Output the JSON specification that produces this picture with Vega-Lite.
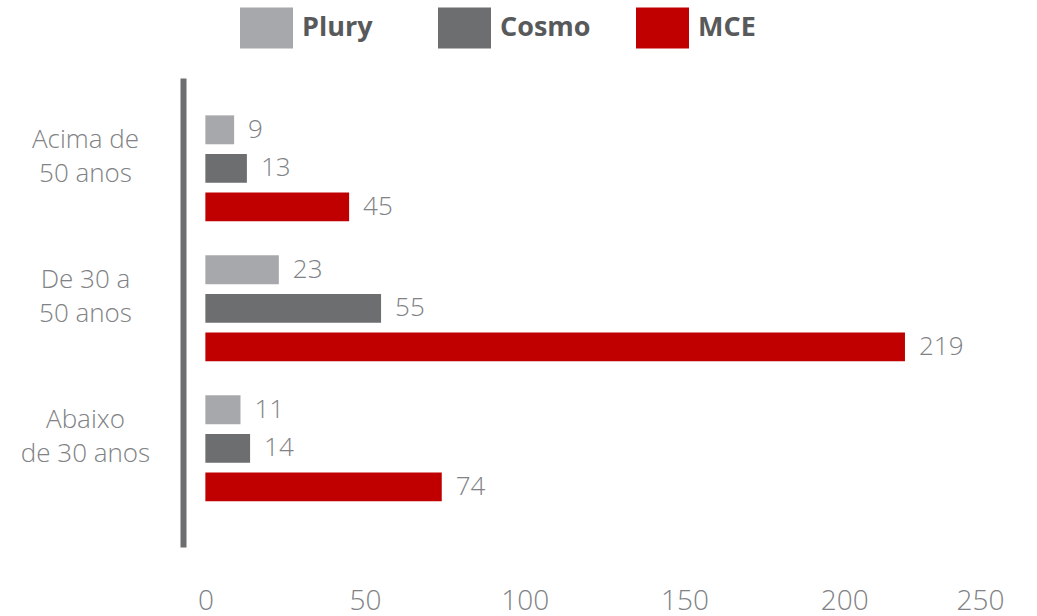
{
  "$schema": "https://vega.github.io/schema/vega-lite/v6.json",
  "width": 821,
  "height": 469,
  "autosize": {"type": "none"},
  "padding": {"left": 183, "top": 78, "right": 33, "bottom": 69},
  "background": "white",
  "config": {"view": {"stroke": null}, "font": "Open Sans"},
  "data": {
    "values": [
      {"grupo": "Acima de 50 anos", "empresa": "Plury", "valor": 9},
      {"grupo": "Acima de 50 anos", "empresa": "Cosmo", "valor": 13},
      {"grupo": "Acima de 50 anos", "empresa": "MCE", "valor": 45},
      {"grupo": "De 30 a 50 anos", "empresa": "Plury", "valor": 23},
      {"grupo": "De 30 a 50 anos", "empresa": "Cosmo", "valor": 55},
      {"grupo": "De 30 a 50 anos", "empresa": "MCE", "valor": 219},
      {"grupo": "Abaixo de 30 anos", "empresa": "Plury", "valor": 11},
      {"grupo": "Abaixo de 30 anos", "empresa": "Cosmo", "valor": 14},
      {"grupo": "Abaixo de 30 anos", "empresa": "MCE", "valor": 74}
    ]
  },
  "encoding": {
    "y": {
      "field": "grupo",
      "type": "nominal",
      "sort": ["Acima de 50 anos", "De 30 a 50 anos", "Abaixo de 30 anos"],
      "scale": {"paddingInner": 0.243, "paddingOuter": 0.2965, "align": 0.45},
      "axis": {
        "title": null,
        "domain": true,
        "domainColor": "#6d6e70",
        "domainWidth": 6,
        "ticks": false,
        "labelAlign": "center",
        "labelBaseline": "middle",
        "labelPadding": 98,
        "labelFontSize": 26,
        "labelFontWeight": 300,
        "labelColor": "#808285",
        "labelLineHeight": 34,
        "labelOffset": -28,
        "labelExpr": "datum.label == 'Acima de 50 anos' ? ['Acima de', '50 anos'] : datum.label == 'De 30 a 50 anos' ? ['De 30 a', '50 anos'] : ['Abaixo', 'de 30 anos']"
      }
    },
    "yOffset": {
      "field": "empresa",
      "type": "nominal",
      "sort": ["Plury", "Cosmo", "MCE"],
      "scale": {"paddingInner": 0.25, "paddingOuter": 0}
    },
    "x": {
      "field": "valor",
      "type": "quantitative",
      "scale": {"domain": [-7, 250], "nice": false, "zero": false},
      "axis": {
        "title": null,
        "values": [0, 50, 100, 150, 200, 250],
        "domain": false,
        "ticks": false,
        "grid": false,
        "labelFontSize": 28,
        "labelFontWeight": 300,
        "labelColor": "#808285",
        "labelPadding": 54,
        "labelBaseline": "middle"
      }
    }
  },
  "layer": [
    {
      "mark": {"type": "bar"},
      "encoding": {
        "x2": {"datum": 0},
        "color": {
          "field": "empresa",
          "type": "nominal",
          "scale": {"domain": ["Plury", "Cosmo", "MCE"], "range": ["#a7a8ab", "#6d6e70", "#c00000"]},
          "legend": {
            "title": null,
            "orient": "none",
            "legendX": 57,
            "legendY": -77,
            "direction": "horizontal",
            "symbolType": "M-1,-0.774L1,-0.774L1,0.774L-1,0.774Z",
            "symbolSize": 2809,
            "symbolStrokeWidth": 0,
            "symbolOpacity": 1,
            "labelFontSize": 27,
            "labelFontWeight": "bold",
            "labelColor": "#58595b",
            "labelOffset": 9,
            "columnPadding": 45,
            "gridAlign": "all",
            "padding": 0
          }
        }
      }
    },
    {
      "mark": {"type": "text", "align": "left", "baseline": "middle", "dx": 14, "fontSize": 26, "fontWeight": 300, "color": "#808285"},
      "encoding": {"text": {"field": "valor", "type": "quantitative"}}
    }
  ]
}
